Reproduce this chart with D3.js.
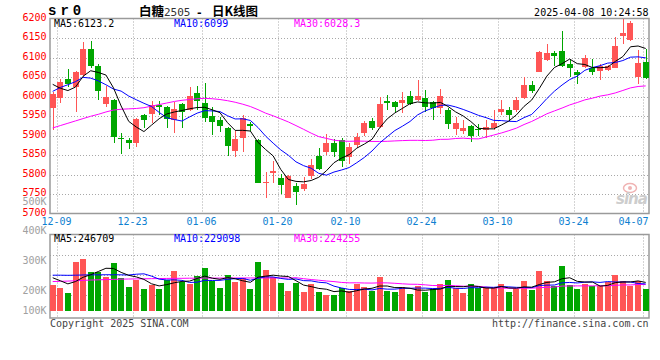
<!DOCTYPE html>
<html><head><meta charset="utf-8">
<script src="https://cdn.jsdelivr.net/npm/d3@7/dist/d3.min.js"></script>
<style>
body{margin:0;background:#fff;}
svg{display:block;}
text{font-family:"DejaVu Sans Mono","Liberation Mono",monospace;font-size:10px;}
</style></head><body>
<svg id="c" width="660" height="360"></svg>
<script>
// ---------- data ----------
const dates = ["12-06","12-09","12-10","12-11","12-12","12-13","12-16","12-17","12-18","12-19","12-20","12-23","12-24","12-25","12-26","12-27","12-30","12-31",
"01-02","01-03","01-06","01-07","01-08","01-09","01-10","01-13","01-14","01-15","01-16","01-17","01-20","01-21","01-22","01-23","01-24","01-27",
"02-05","02-06","02-07","02-10","02-11","02-12","02-13","02-14","02-17","02-18","02-19","02-20","02-21","02-24","02-25","02-26","02-27","02-28",
"03-03","03-04","03-05","03-06","03-07","03-10","03-11","03-12","03-13","03-14","03-17","03-18","03-19","03-20","03-21","03-24","03-25","03-26","03-27","03-28","03-31",
"04-01","04-02","04-03","04-07"];
const open = [5972,5997,6046,6024,6056,6124,6078,5982,5993,5894,
5889,5881,5953,5956,5980,5975,5940,5982,5965,6010,
5985,5951,5941,5921,5860,5894,5930,5889,5779,5805,
5790,5740,5770,5764,5797,5849,5857,5881,5890,5845,
5875,5908,5937,5922,5988,5987,5985,6002,5993,5998,
5987,5972,5965,5916,5911,5924,5918,5914,5921,5962,
5965,5966,5997,6031,6065,6095,6112,6118,6084,6064,
6077,6075,6067,6069,6075,6157,6146,6050,6090];
const high = [6012,6047,6072,6067,6140,6144,6084,6028,5995,5908,
5895,5945,5955,5988,5990,5977,5987,5984,6025,6028,
6036,5974,5949,5923,5911,5954,5936,5892,5806,5834,
5801,5798,5778,5793,5839,5868,5905,5891,5893,5880,
5908,5939,5946,5999,6004,5989,6012,6015,6042,6017,
5990,6021,5972,5948,5940,5927,5931,5940,5965,5993,
5975,5999,6052,6041,6118,6137,6118,6168,6094,6069,
6108,6097,6084,6083,6153,6200,6195,6120,6123];
const low = [5915,5985,6024,5962,6052,6073,5991,5973,5882,5853,
5867,5872,5920,5933,5954,5920,5906,5921,5963,5965,
5934,5903,5910,5849,5845,5859,5913,5778,5740,5778,
5750,5740,5723,5757,5788,5813,5851,5844,5819,5828,
5868,5899,5914,5920,5967,5960,5958,5979,5990,5960,
5940,5957,5917,5902,5905,5884,5899,5894,5914,5952,
5941,5962,5995,6010,6063,6093,6078,6077,6050,6033,
6075,6057,6043,6067,6073,6135,6144,6033,6045];
const close = [6008,6037,6032,6063,6124,6079,6015,5999,5897,5892,
5881,5942,5941,5980,5974,5942,5968,5960,6002,5990,
5945,5935,5924,5873,5891,5946,5926,5779,5781,5808,
5772,5797,5755,5775,5825,5814,5880,5859,5834,5870,
5897,5933,5920,5981,5985,5973,5992,5981,6003,5973,
5970,6001,5929,5933,5920,5899,5914,5922,5933,5968,
5952,5993,6031,6014,6116,6112,6104,6080,6073,6057,
6101,6065,6078,6080,6131,6163,6191,6088,6048];
// volume, thousands of lots
const volume = [225,202,156,424,453,338,338,297,416,283,
211,268,191,225,191,268,348,250,237,305,
371,257,202,312,254,283,191,425,356,297,
243,173,243,166,232,163,139,140,196,173,
231,211,173,294,173,162,211,144,216,167,
191,231,268,202,159,231,202,202,196,231,
167,191,260,182,346,260,216,393,225,190,
231,216,216,254,312,260,216,260,190];
const ma5 = [6032,6022,6016,6025,6052.8,6067,6062.6,6056,6022.8,5976.4,
5936.8,5922.2,5910.6,5927.2,5943.6,5955.8,5961,5964.8,5969.2,5972.4,
5973,5966.4,5959.2,5933.4,5913.6,5913.8,5912,5883,5864.6,5848,
5813.2,5787.4,5782.6,5781.4,5784.8,5793.2,5809.8,5830.6,5842.4,5851.4,
5868,5878.6,5890.8,5920.2,5943.2,5958.4,5970.2,5982.4,5986.8,5984.4,
5983.8,5985.6,5975.2,5961.2,5950.6,5936.4,5919,5917.6,5917.6,5927.2,
5937.8,5953.6,5975.4,5991.6,6021.2,6053.2,6075.4,6085.2,6097,6085.2,
6083,6075.2,6074.8,6076.2,6091,6103.4,6128.6,6130.6,6124.2];
const ma10 = [6014,6024,6031,6039,6050,6048,6041,6031,6020,6014.6,
6001.9,5992.4,5983.3,5975,5960,5946.3,5941.6,5937.7,5948.2,5958,
5964.4,5963.7,5962,5951.3,5943,5943.4,5939.2,5921.1,5899,5880.8,
5863.5,5849.7,5832.8,5823,5816.4,5803.2,5798.6,5806.6,5811.9,5818.1,
5830.6,5844.2,5860.7,5881.3,5897.3,5913.2,5924.4,5936.6,5953.5,5963.8,
5971.1,5977.9,5978.8,5974,5967.5,5960.1,5952.3,5946.4,5939.4,5938.9,
5937.1,5936.3,5946.5,5954.6,5974.2,5995.5,6014.5,6030.3,6044.3,6053.2,
6068.1,6075.3,6080,6086.6,6088.1,6093.2,6101.9,6102.7,6100.2];
const ma30 = [5920,5926,5932,5938,5944,5950,5955,5961,5966,5968,
5969,5970,5972,5976,5980,5984,5988,5991,5993,5995,
5996,5995,5993,5990,5986,5981,5975,5967,5958,5951.1,
5943.3,5935.3,5926,5916.4,5906.5,5897.6,5893.1,5888.5,5886.4,5885.6,
5886.2,5885.9,5885.2,5885.2,5885.6,5886.6,5887.4,5888.1,5888.1,5887.6,
5888.4,5890.6,5890.8,5892.8,5893.7,5892.2,5891.8,5896.5,5901.6,5906.9,
5912.9,5919.5,5928.7,5936.6,5946.3,5956.3,5963.7,5971.1,5979.1,5985.3,
5992.1,5996.5,6001.8,6005.1,6009.9,6016.3,6022.9,6026.5,6028];
const vma5 = [288,262,235,255,292,314.6,341.8,370,368.4,334.4,
309,295,273.8,235.6,217.2,228.6,244.6,256.4,258.8,281.6,
302.2,284,274.4,289.4,279.2,261.6,248.4,293,301.8,310.4,
302.4,298.8,262.4,224.4,211.4,195.4,188.6,168,174,162.2,
175.8,190.2,196.8,216.4,216.4,202.6,202.6,196.8,181.2,180,
185.8,189.8,214.6,211.8,210.2,218.2,212.4,199.2,198,212.4,
199.6,197.4,209,206.2,229.2,247.8,252.8,279.4,288,256.8,
251,251,215.6,221.4,245.8,251.6,251.6,260.4,247.6];
const vma10 = [310,310,309,310,312,313,313,314,314,313.2,
311.8,318.4,321.9,302,275.8,268.8,269.8,265.1,247.2,249.4,
265.4,264.3,265.4,274.1,280.4,281.9,266.2,283.7,295.6,294.8,
282,273.6,277.7,263.1,260.9,248.9,243.7,215.2,199.2,186.8,
185.6,189.4,182.4,195.2,189.3,189.2,196.4,196.8,198.8,198.2,
194.2,196.2,205.7,196.5,195.1,202,201.1,206.9,204.9,211.3,
208.9,204.9,204.1,202.1,220.8,223.7,225.1,244.2,247.1,243,
249.4,251.9,247.5,254.7,251.3,251.3,251.3,238,234.5];
const vma30 = [255,257,259,262,265,268,270,272,274,276,
277,278,279,280,281,282,283,283,284,284,
285,285,285,286,286,286,286,286,286,285.8,
286.4,285.4,288.3,279.7,272.4,266.5,259.9,254.7,247.3,243.7,
244.3,242.4,241.8,244.1,243.5,240,235.4,231.9,231.2,226.6,
220.6,219.7,221.9,218.3,215.1,213.4,213.7,206.3,201,198.8,
196.2,196.8,197.4,197.9,201.7,205,207.5,216,216.9,217.5,
217.5,217.7,219.1,217.8,222.4,225.7,225.8,229.7,228.8];
const priceTicks = [5700,5750,5800,5850,5900,5950,6000,6050,6100,6150,6200];
const volTicks = [100,200,300,400,500];
const dateTicks = ["12-09","12-23","01-06","01-20","02-10","02-24","03-10","03-24","04-07"];
const legendPrice = [["MA5:6123.2","#000"],["MA10:6099","#0000ff"],["MA30:6028.3","#ff00ff"]];
const legendVol = [["MA5:246709","#000"],["MA10:229098","#0000ff"],["MA30:224255","#ff00ff"]];

// ---------- layout ----------
const P = {l:50, r:649, t:18.5, b:213.5};
const V = {t:234.5, b:318, base:311};
const UP = "#ff5555", DOWN = "#00a600", GRID = "#a8a8a8", FRAME = "#9a9a9a";

const svg = d3.select("#c");
const x = d3.scaleBand().domain(dates).range([48.9, 649.5]);
const cx = d => x(d) + x.bandwidth()/2;
const bl = d => Math.round(cx(d) - 3);
const y = d3.scaleLinear().domain([5700, 6200]).range([213.5, 19]);
const yv = d3.scaleLinear().domain([0, 500]).range([V.base, V.base - 500/8.66]);
const yvLab = d3.scaleLinear().domain([100, 200, 500]).range([314, 294, 204.5]);

const defs = svg.append("defs");
defs.append("clipPath").attr("id","cp").append("rect")
  .attr("x",P.l).attr("y",P.t).attr("width",P.r-P.l).attr("height",P.b-P.t);
defs.append("clipPath").attr("id","cv").append("rect")
  .attr("x",P.l).attr("y",V.t).attr("width",P.r-P.l).attr("height",V.b-V.t);

// grid
const g = svg.append("g").attr("stroke",GRID).attr("stroke-dasharray","1,2").attr("fill","none");
priceTicks.slice(1,-1).forEach(t=>{
  const yy = Math.round(y(t))+0.5;
  g.append("line").attr("x1",P.l).attr("x2",P.r).attr("y1",yy).attr("y2",yy);
});
[255,275,295].forEach(yy=>{
  g.append("line").attr("x1",P.l).attr("x2",P.r).attr("y1",yy+0.5).attr("y2",yy+0.5);
});
dateTicks.forEach(d=>{
  const xx = bl(d)+0.5;
  g.append("line").attr("x1",xx).attr("x2",xx).attr("y1",P.t).attr("y2",P.b);
  g.append("line").attr("x1",xx).attr("x2",xx).attr("y1",V.t).attr("y2",V.b);
});

// frames
const f = svg.append("g").attr("stroke",FRAME).attr("stroke-width",1.5).attr("fill","none");
f.append("rect").attr("x",P.l).attr("y",P.t).attr("width",P.r-P.l).attr("height",P.b-P.t);
f.append("rect").attr("x",P.l).attr("y",V.t).attr("width",P.r-P.l).attr("height",V.b-V.t);

// watermark
const wm = svg.append("g").attr("clip-path","url(#cp)");
wm.append("ellipse").attr("cx",630).attr("cy",188).attr("rx",6.5).attr("ry",4.5)
  .attr("fill","none").attr("stroke","#f0b4b4").attr("stroke-width",1.5);
wm.append("circle").attr("cx",630).attr("cy",188).attr("r",2).attr("fill","#f0b4b4");
wm.append("text").attr("x",616).attr("y",204).text("sina")
  .style("font-family","DejaVu Sans").style("font-size","15px").style("font-weight","bold")
  .style("font-style","italic").style("letter-spacing","-1px").attr("fill","#cdcdcd");

// candles
const data = dates.map((d,i)=>({d,o:open[i],h:high[i],l:low[i],c:close[i],v:volume[i]}));
const cg = svg.append("g").attr("clip-path","url(#cp)");
data.forEach(k=>{
  const col = k.c >= k.o ? UP : DOWN;
  const xl = bl(k.d);
  const yh = Math.round(y(k.h)), yl = Math.round(y(k.l));
  cg.append("rect").attr("x",xl+3).attr("y",yh).attr("width",1).attr("height",Math.max(1,yl-yh)).attr("fill",col);
  const yt = Math.round(y(Math.max(k.o,k.c))), yb = Math.round(y(Math.min(k.o,k.c)));
  cg.append("rect").attr("x",xl).attr("y",yt).attr("width",6).attr("height",Math.max(1,yb-yt)).attr("fill",col);
});

// volume bars
const vg = svg.append("g").attr("clip-path","url(#cv)");
data.forEach(k=>{
  const col = k.c >= k.o ? UP : DOWN;
  const yt = Math.round(yv(k.v));
  vg.append("rect").attr("x",bl(k.d)).attr("y",yt).attr("width",6).attr("height",V.base-yt).attr("fill",col);
});

// MA lines
const lineP = arr => d3.line().x((d,i)=>cx(dates[i])).y(d=>y(d))(arr);
const lineV = arr => d3.line().x((d,i)=>cx(dates[i])).y(d=>yv(d))(arr);
[[ma30,"#ff00ff"],[ma10,"#0000ff"],[ma5,"#000"]].forEach(([a,c])=>{
  cg.append("path").attr("d",lineP(a)).attr("fill","none").attr("stroke",c).attr("stroke-width",1);
});
[[vma30,"#ff00ff"],[vma10,"#0000ff"],[vma5,"#000"]].forEach(([a,c])=>{
  vg.append("path").attr("d",lineV(a)).attr("fill","none").attr("stroke",c).attr("stroke-width",1);
});

// price labels
priceTicks.forEach(t=>{
  svg.append("text").attr("x",46.5).attr("y",y(t)+2).attr("text-anchor","end")
    .attr("fill","#ff0000").text(t);
});
// volume labels
volTicks.forEach(t=>{
  svg.append("text").attr("x",46.5).attr("y",yvLab(t)).attr("text-anchor","end")
    .attr("fill","#a0a0a0").text(t+"K");
});
// date labels
dateTicks.forEach(d=>{
  let xx = bl(d) - 0.5;
  xx = Math.min(xx, P.r - 15.5);
  svg.append("text").attr("x",xx).attr("y",225).attr("text-anchor","middle")
    .attr("fill","#0e80d0").text(d);
});
// legends
const lx = [54, 174, 294];
legendPrice.forEach(([t,c],i)=>svg.append("text").attr("x",lx[i]).attr("y",27).attr("fill",c).text(t));
legendVol.forEach(([t,c],i)=>svg.append("text").attr("x",lx[i]).attr("y",242).attr("fill",c).text(t));

// header
svg.append("text").attr("x",48).attr("y",15).text("sr0")
  .style("font-family","Liberation Mono").style("font-size","14px").style("font-weight","bold")
  .style("letter-spacing","4px").attr("fill","#000");
const title = svg.append("text").attr("y",15.5).attr("fill","#000");
title.append("tspan").attr("x",139).text("白糖").style("font-family","Noto Sans CJK SC").style("font-size","12.5px").style("font-weight","bold");
title.append("tspan").attr("x",164).text("2505").attr("fill","#333").style("font-size","11px");
title.append("tspan").attr("x",196).text("-").style("font-size","11px").style("font-weight","bold");
title.append("tspan").attr("x",212).text("日K线图").style("font-family","Noto Sans CJK SC").style("font-size","12.5px").style("font-weight","bold");
svg.append("text").attr("x",648.5).attr("y",15.5).attr("text-anchor","end").attr("fill","#000").text("2025-04-08 10:24:58");

// footer
svg.append("text").attr("x",50).attr("y",327).attr("fill","#444").text("Copyright 2025 SINA.COM");
svg.append("text").attr("x",648.5).attr("y",327).attr("text-anchor","end").attr("fill","#444").text("http://finance.sina.com.cn");
</script>
</body></html>
